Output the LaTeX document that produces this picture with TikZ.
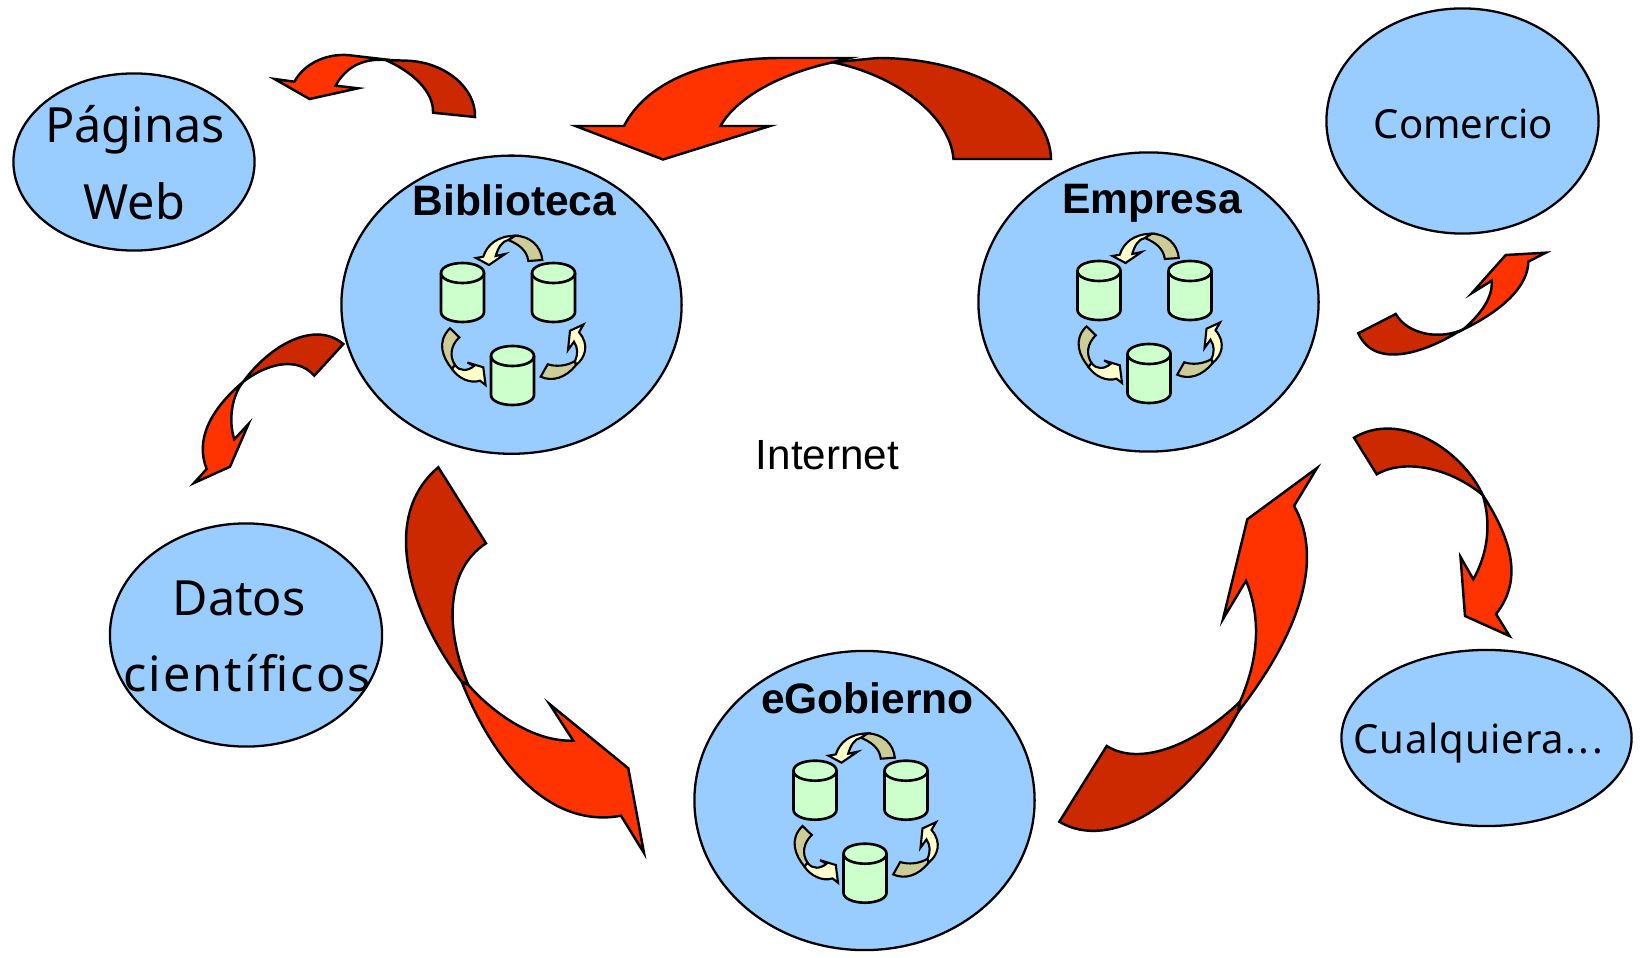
\documentclass[tikz,border=0pt]{standalone}
\usepackage{fontspec}
\setmainfont{Liberation Sans}
\newfontfamily\thinfam{Noto Sans}
\usetikzlibrary{shapes.geometric}
\definecolor{elblue}{HTML}{99CCFF}
\definecolor{redlight}{HTML}{FF3300}
\definecolor{reddark}{HTML}{CC2900}
\definecolor{cyl}{HTML}{CCFFCC}
\definecolor{arrlight}{HTML}{FFFFCC}
\definecolor{arrdark}{HTML}{CCCC99}
\tikzset{
 x=0.01cm,y=-0.01cm,
 blob/.style={draw=black,fill=elblue,ellipse,line width=0.65pt,inner sep=0pt},
 ribdark/.style={draw=black,fill=reddark,line width=0.7pt,line join=miter},
 riblight/.style={draw=black,fill=redlight,line width=0.7pt,line join=miter},
 mini dark/.style={draw=black,fill=arrdark,line width=0.6pt},
 mini light/.style={draw=black,fill=arrlight,line width=0.6pt},
 cylbody/.style={draw=black,fill=cyl,line width=0.75pt},
 titletext/.style={font=\fontsize{12.1}{14}\selectfont\bfseries,inner sep=0pt,anchor=base},
 plaintext/.style={font=\fontsize{12}{14}\selectfont,inner sep=0pt,anchor=base},
 thinlabel/.style={font=\thinfam\fontsize{11.4}{14}\selectfont,inner sep=0pt,anchor=base},
 biglabel/.style={font=\thinfam\fontsize{13.8}{21.8}\selectfont,inner sep=0pt,anchor=base},
}
\newcommand{\barrel}[2]{%
 \begin{scope}[shift={(#1,#2)}]
  \path[cylbody] (0,10) -- (0,49) .. controls (0,55) and (10,59) .. (21.5,59) .. controls (33,59) and (43,55) .. (43,49) -- (43,10) .. controls (43,4) and (33,0) .. (21.5,0) .. controls (10,0) and (0,4) .. (0,10) -- cycle;
  \path[draw=black,line width=0.75pt] (0,10) .. controls (0,16) and (10,20) .. (21.5,20) .. controls (33,20) and (43,16) .. (43,10);
 \end{scope}}
\newcommand{\cluster}[2]{%
 \begin{scope}[shift={(#1,#2)}]
  \path[mini dark] (542.3,260) .. controls (541,246) and (530,236) .. (515,235.7) -- (508.3,240) .. controls (518,244) and (527,250) .. (528.3,261) -- cycle;
  \path[mini light] (508.3,240) .. controls (502,241) and (498,248) .. (495.7,256) -- (505,254) -- (489,265) -- (476,258) -- (483.3,256.7) .. controls (487,245) and (497,236) .. (515,235.7) -- cycle;
  \path[mini dark] (450,328.3) -- (459.3,337.3) .. controls (451,345) and (449,356) .. (455,365) -- (452,369) .. controls (443,358) and (436,342) .. (450,328.3) -- cycle;
  \path[mini light] (455,365) .. controls (460,372) and (468,371) .. (474,366) -- (467.5,362.5) -- (483.3,367.3) -- (485.5,385) -- (480,380.7) .. controls (470,384) and (458,378) .. (452,369) -- cycle;
  \path[mini dark] (540.7,376.7) -- (547.7,364.3) .. controls (556,367) and (567,366) .. (575,361) -- (576,365) .. controls (566,378) and (552,382) .. (540.7,376.7) -- cycle;
  \path[mini light] (575,361) .. controls (578,354) and (578,348) .. (574,341.7) -- (568,350) -- (570,330.7) -- (583.5,324.5) -- (579,332.3) .. controls (590,345) and (585,358) .. (576,365) -- cycle;
  \barrel{441}{263}
  \barrel{532}{263}
  \barrel{491}{346}
 \end{scope}}
\begin{document}
\begin{tikzpicture}
\useasboundingbox (0,0) rectangle (1643,958);
% ellipses
\node[blob,minimum width=241*0.28453pt,minimum height=177*0.28453pt] (paginas) at (134,162) {};
\node[blob,minimum width=340*0.28453pt,minimum height=298*0.28453pt] (biblioteca) at (511.5,304.7) {};
\node[blob,minimum width=340*0.28453pt,minimum height=299*0.28453pt] (empresa) at (1148.5,302) {};
\node[blob,minimum width=272*0.28453pt,minimum height=225*0.28453pt] (comercio) at (1462.5,121) {};
\node[blob,minimum width=272*0.28453pt,minimum height=223*0.28453pt] (datos) at (246,635) {};
\node[blob,minimum width=290*0.28453pt,minimum height=176*0.28453pt] (cualquiera) at (1486.5,738) {};
\node[blob,minimum width=340*0.28453pt,minimum height=299*0.28453pt] (egobierno) at (864.5,800.5) {};
% clusters
\cluster{0}{0}
\cluster{636.5}{-2}
\cluster{352.5}{497.7}
% top large ribbon
\path[ribdark] (1051,159) .. controls (1050,105) and (975,58) .. (878,58) -- (832.6,62.3) .. controls (895,75) and (950,115) .. (953.5,159) -- cycle;
\path[riblight] (832.6,62.3) .. controls (775,75) and (735,100) .. (720.5,126) -- (770,126) -- (663,159.5) -- (575.5,126) -- (624,126) .. controls (645,85) and (700,58) .. (781,58) -- (850,58) -- cycle;
% top small ribbon
\path[ribdark] (475,117) .. controls (476,88) and (445,62) .. (407,60.7) -- (385.5,60) .. controls (413,72) and (434,92) .. (433,112.7) -- cycle;
\path[riblight] (385.5,60) .. controls (362,58) and (345,68) .. (335.6,85.7) -- (358,88.3) -- (309.6,99) -- (274.5,79) -- (294.4,81.7) .. controls (305,62) and (330,52) .. (353,55.7) -- (390,60) -- cycle;
% right upper ribbon
\path[ribdark] (1358.3,333.3) -- (1395.7,314) .. controls (1408,335) and (1440,340) .. (1463.3,329.3) -- (1458,332) .. controls (1425,352) and (1375,370) .. (1358.3,333.3) -- cycle;
\path[riblight] (1463.3,329.3) .. controls (1480,315) and (1493,298) .. (1491.7,280.7) -- (1472,293) -- (1505.7,255) -- (1545.7,252.7) -- (1528.3,261.7) .. controls (1528,285) and (1505,310) .. (1458,332) -- cycle;
% right lower ribbon
\path[ribdark] (1354,437.7) -- (1376.7,474.3) .. controls (1405,458) and (1450,468) .. (1482.7,495) .. controls (1462,450) and (1400,410) .. (1354,437.7) -- cycle;
\path[riblight] (1482.7,495) .. controls (1492,525) and (1487,555) .. (1473.3,579.3) -- (1460.5,557) -- (1465,616) -- (1509.5,636) -- (1496,614) .. controls (1523,580) and (1512,540) .. (1482.7,495) -- cycle;
% left big ribbon
\path[ribdark] (438.3,467.3) -- (486,543.3) .. controls (445,570) and (445,630) .. (468.3,685) -- (461.7,681.7) .. controls (415,620) and (376,520) .. (438.3,467.3) -- cycle;
\path[riblight] (468.3,685) .. controls (495,715) and (535,742) .. (573.3,740.7) -- (549.5,704) -- (628.3,768.3) -- (644,853) -- (621,815.7) .. controls (555,828) and (498,772) .. (461.7,681.7) -- cycle;
% right big ribbon
\path[ribdark] (1059.3,821.7) -- (1106.7,746) .. controls (1140,767) and (1195,745) .. (1240,701.7) -- (1238.3,711.7) .. controls (1188,805) and (1110,852) .. (1059.3,821.7) -- cycle;
\path[riblight] (1240,701.7) .. controls (1258,660) and (1262,620) .. (1246,580.7) -- (1223,619) -- (1247.3,519.3) -- (1317,468) -- (1294,506) .. controls (1325,560) and (1298,635) .. (1238.3,711.7) -- cycle;
% left small ribbon
\path[ribdark] (343.3,344) -- (314.3,375.7) .. controls (296,355) and (265,365) .. (243.3,381.7) .. controls (270,345) and (315,320) .. (343.3,344) -- cycle;
\path[riblight] (243.3,381.7) .. controls (232,395) and (228,420) .. (234.3,439.3) -- (248.5,424) -- (230,466.7) -- (194,483) -- (206.7,469) .. controls (195,440) and (210,410) .. (243.3,381.7) -- cycle;
% labels
\node[titletext] (tbib) at (514.5,216) {Biblioteca};
\node[titletext] (temp) at (1152,214) {Empresa};
\node[titletext] (tego) at (867.5,713) {eGobierno};
\node[plaintext] (tnet) at (827.5,469) {Internet};
\node[biglabel] (tpag) at (135,142.7) {Páginas};
\node[biglabel] (tweb) at (134.5,219.3) {Web};
\node[biglabel] (tdat) at (239,615) {Datos};
\node[biglabel] (tcie) at (247,691) {\addfontfeature{LetterSpace=4.5}científicos};
\node[thinlabel] (tcom) at (1463.5,139) {Comercio};
\node[thinlabel] (tcua) at (1478.5,753) {\addfontfeature{LetterSpace=2}Cualquiera.\kern0.9pt.\kern0.9pt.};
\end{tikzpicture}
\end{document}
